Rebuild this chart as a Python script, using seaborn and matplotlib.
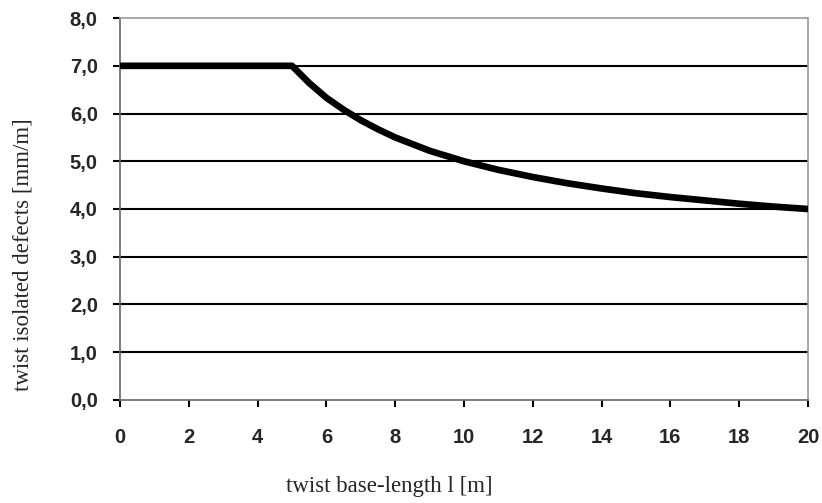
import numpy as np
import pandas as pd
import matplotlib
matplotlib.use("Agg")
import matplotlib.pyplot as plt
import seaborn as sns

# valores
base_len = [0, 5, 5.5, 6, 6.5, 7, 7.5, 8, 9, 10, 11, 12, 13, 14, 15, 16, 17,
            18, 19, 20]
twist_lim = [7.0, 7.0, 6.64, 6.33, 6.08, 5.86, 5.67, 5.5, 5.22, 5.0, 4.82,
             4.67, 4.54, 4.43, 4.33, 4.25, 4.18, 4.11, 4.05, 4.0]
x_ticks = list(range(0, 21, 2))
y_ticks = [0, 1, 2, 3, 4, 5, 6, 7, 8]
y_labels = ["0,0", "1,0", "2,0", "3,0", "4,0", "5,0", "6,0", "7,0", "8,0"]

df = pd.DataFrame({"l": base_len, "twist": twist_lim})

sns.set_style("white")

fig, ax = plt.subplots(figsize=(8.22, 5.03), dpi=100)
fig.subplots_adjust(left=0.146, right=0.983, top=0.964, bottom=0.205)

# lineas horizontales
for y in y_ticks[1:-1]:
    ax.axhline(y, color="black", lw=1.5, zorder=1)

sns.lineplot(data=df, x="l", y="twist", ax=ax, color="black", lw=4.8,
             solid_capstyle="round", solid_joinstyle="round", zorder=3)

ax.set_xlim(0, 20)
ax.set_ylim(0, 8)
ax.set_xticks(x_ticks)
ax.set_yticks(y_ticks)
ax.set_yticklabels(y_labels)

for sp in ax.spines.values():
    sp.set_color("#999999")
    sp.set_linestyle((0, (1, 1)))
    sp.set_linewidth(1.2)
ax.spines["left"].set_color("#666666")
ax.spines["bottom"].set_color("#666666")

ax.tick_params(axis="both", direction="out", length=5, width=1.5, color="black",
               labelsize=14.5, bottom=True, left=True)
ax.tick_params(axis="x", pad=15)
ax.tick_params(axis="y", pad=11)
for lab in ax.get_xticklabels() + ax.get_yticklabels():
    lab.set_fontweight("bold")
    lab.set_family("Liberation Sans")

ax.set_xlabel("twist base-length l [m]", family="Liberation Serif", fontsize=16.5)
ax.set_ylabel("twist isolated defects [mm/m]", family="Liberation Serif",
              fontsize=16.5)
ax.xaxis.label.set_va("center")
ax.yaxis.label.set_va("center")
ax.xaxis.set_label_coords(0.392, -0.228)
ax.yaxis.set_label_coords(-0.141, 0.38)

plt.savefig("out.png", dpi=100)
